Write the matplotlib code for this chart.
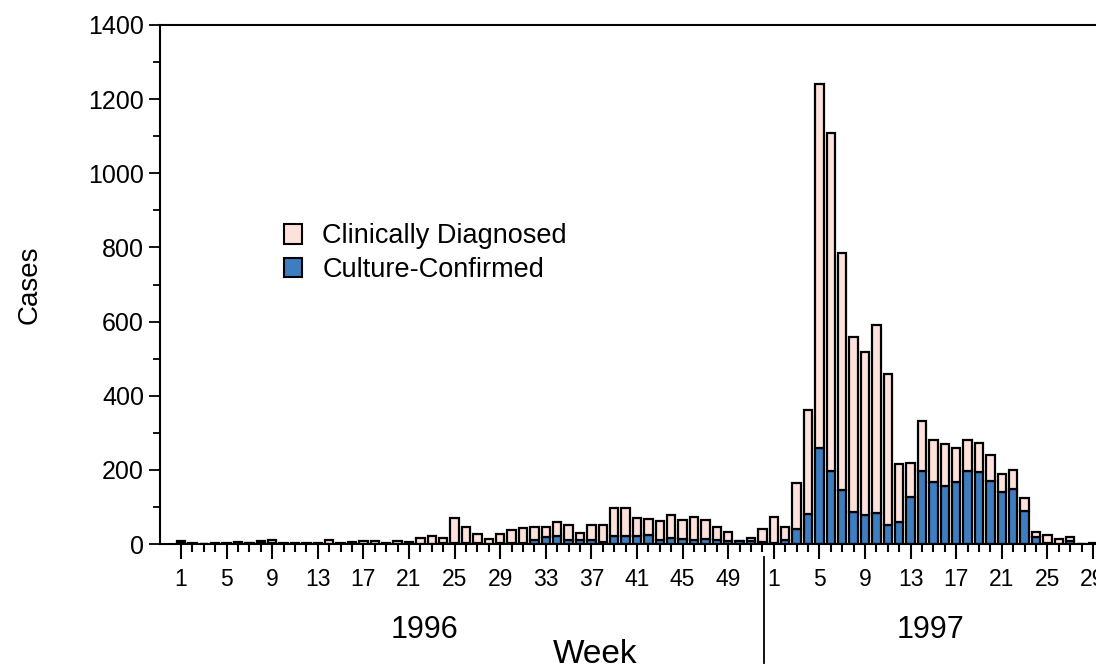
import numpy as np
import matplotlib.pyplot as plt
from matplotlib.patches import Patch

plt.rcParams['font.family'] = ['Liberation Sans', 'DejaVu Sans']

# weekly totals (clinically diagnosed + culture-confirmed) and culture-confirmed cases
total_1996 = [7, 4, 1, 3, 3, 6, 4, 9, 11, 3, 4, 3, 2, 10, 4, 6, 7, 7, 3, 9,
              5, 16, 21, 15, 69, 47, 28, 14, 26, 38, 44, 46, 46, 59, 51, 30,
              52, 52, 98, 98, 70, 68, 63, 77, 66, 72, 66, 45, 32, 9, 15, 40]
confirmed_1996 = [2, 1, 0, 1, 1, 2, 2, 4, 2, 1, 1, 1, 1, 1, 1, 1, 1, 1, 1, 1,
                  2, 1, 1, 3, 2, 3, 2, 1, 2, 2, 4, 10, 18, 22, 11, 12,
                  12, 6, 22, 21, 22, 25, 12, 15, 14, 12, 13, 12, 8, 7, 8, 5]
total_1997 = [74, 46, 164, 362, 1241, 1110, 786, 558, 517, 592, 459, 216, 218,
              332, 281, 269, 260, 281, 272, 239, 190, 200, 124, 32, 23, 13, 18, 1, 2]
confirmed_1997 = [3, 10, 41, 82, 259, 197, 145, 85, 79, 83, 52, 58, 126,
                  198, 166, 156, 166, 197, 193, 171, 140, 148, 89, 19, 3, 1, 8, 1, 1]

week_labels_1996 = list(range(1, 53))
week_labels_1997 = list(range(1, 30))
legend_labels = ['Clinically Diagnosed', 'Culture-Confirmed']

pink = '#fde1db'
blue = '#3e7dbf'

total = np.array(total_1996 + total_1997)
confirmed = np.array(confirmed_1996 + confirmed_1997)
clinical = total - confirmed
weeks = week_labels_1996 + week_labels_1997
x = np.arange(1, len(weeks) + 1)

fig = plt.figure(figsize=(10.96, 6.68), dpi=100)
ax = fig.add_axes([160 / 1096, 1 - 544 / 668, 1 - 160 / 1096, (544 - 25) / 668])

ax.bar(x, confirmed, width=0.74, color=blue, edgecolor='black', linewidth=1.6, zorder=2)
ax.bar(x, clinical, width=0.74, bottom=confirmed, color=pink, edgecolor='black',
       linewidth=1.6, zorder=2)

ax.set_xlim(-0.84, 81.26)
ax.set_ylim(0, 1400)

ax.spines['right'].set_visible(False)
for s in ['left', 'top', 'bottom']:
    ax.spines[s].set_linewidth(1.5)

ax.set_yticks(np.arange(0, 1401, 200))
ax.set_yticks(np.arange(100, 1400, 200), minor=True)
ax.tick_params(axis='y', which='major', labelsize=18, length=8, width=1.3, direction='out')
ax.tick_params(axis='y', which='minor', length=5, width=1.3, direction='out')

major_idx = [i for i, w in enumerate(weeks) if (w - 1) % 4 == 0]
ax.set_xticks(x[major_idx])
ax.set_xticklabels([str(weeks[i]) for i in major_idx])
ax.set_xticks(x, minor=True)
ax.tick_params(axis='x', which='major', labelsize=16.5, length=11, width=1.5, pad=6)
ax.tick_params(axis='x', which='minor', length=6, width=1.5)

ax.set_ylabel('Cases', fontsize=20, labelpad=33)

# year separator and labels
xt = ax.get_xaxis_transform()
ax.plot([52.1, 52.1], [-0.025, -0.23], transform=xt, color='black', lw=1.3, clip_on=False)
ax.text(22.4, -0.165, '1996', transform=xt, ha='center', va='center', fontsize=22)
ax.text(66.7, -0.165, '1997', transform=xt, ha='center', va='center', fontsize=22)
ax.text(37.3, -0.212, 'Week', transform=xt, ha='center', va='center', fontsize=24)

handles = [Patch(facecolor=pink, edgecolor='black', linewidth=1.5),
           Patch(facecolor=blue, edgecolor='black', linewidth=1.5)]
ax.legend(handles, legend_labels, loc='upper left', bbox_to_anchor=(0.1325, 0.618),
          frameon=False, fontsize=19.5, handlelength=0.67, handleheight=0.74,
          handletextpad=0.74, labelspacing=0.28, borderpad=0, borderaxespad=0)

fig.savefig('out.png', dpi=100)
